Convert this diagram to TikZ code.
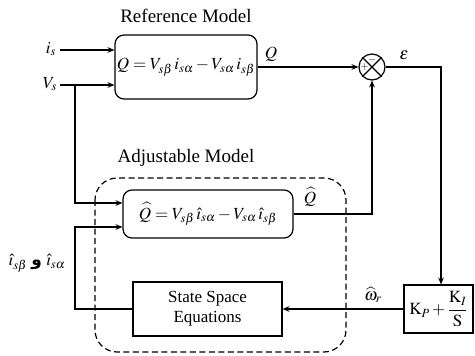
\documentclass[tikz,border=0pt]{standalone}
\usepackage{mathptmx}
\usepackage{fontspec}
\setmainfont{Liberation Serif}
\newfontfamily\arabicfont[Script=Arabic]{DejaVu Sans}
\TeXXeTstate=1
\usetikzlibrary{arrows.meta, positioning}

\begin{document}
\begin{tikzpicture}[
    x=1pt, y=-1pt,
    box/.style={draw, line width=1.2pt, align=center, inner sep=0pt, font=\fontsize{17}{20}\selectfont},
    model/.style={box, rounded corners=9pt},
    lbl/.style={font=\fontsize{17}{20}\selectfont},
    title/.style={font=\fontsize{19}{22}\selectfont},
    arrow/.style={-{Stealth[length=2.4mm, width=2mm]}, line width=1.2pt}
]
    \useasboundingbox (0,0) rectangle (475,356);

    % blocks
    \node[model, minimum width=142pt, minimum height=64pt] (ref) at (186,67)
        {$Q = V_{s\beta}\, i_{s\alpha} - V_{s\alpha}\, i_{s\beta}$};
    \node[model, minimum width=170pt, minimum height=48pt] (adj) at (208,214)
        {$\widehat{Q} = V_{s\beta}\,\hat{\imath}_{s\alpha} - V_{s\alpha}\,\hat{\imath}_{s\beta}$};
    \node[box, minimum width=149pt, minimum height=54pt] (ss) at (207.5,309)
        {State Space\\Equations};
    \node[box, minimum width=69pt, minimum height=48pt] (pi) at (438.5,309)
        {$\mathrm{K}_P + \displaystyle\frac{\mathrm{K}_I}{\mathrm{S}}$};
    \node[draw, line width=1.2pt, circle, minimum size=26pt, inner sep=0pt] (sum) at (372,67) {};
    \draw[line width=1.2pt] (sum.north west) -- (sum.south east);
    \draw[line width=1.2pt] (sum.north east) -- (sum.south west);
    \node[font=\normalsize, inner sep=0pt] at ([xshift=-7.5pt]sum.center) {$+$};
    \node[font=\normalsize, inner sep=0pt] at ([yshift=7.5pt]sum.center) {$-$};

    % adjustable model frame
    \draw[line width=1.2pt, dash pattern=on 6pt off 3.5pt, rounded corners=22pt] (95,178) rectangle (346,352);
    \node[title] (reftitle) at (186,16) {Reference Model};
    \node[title] (adjtitle) at (186,158) {Adjustable Model};

    % inputs
    \node[lbl] (is) at (51,49) {$i_s$};
    \node[lbl] (vs) at (50,84) {$V_s$};
    \coordinate (isend) at (60,50);
    \coordinate (vsend) at (60,85);
    \coordinate (vsbranch) at (75,85);
    \coordinate (vsdown) at (75,203);
    \coordinate (fbup) at (75,227);
    \coordinate (fbdown) at (75,309);
    \coordinate (epsturn) at (441,67);

    \draw[arrow] (isend) -- (isend -| ref.west);
    \draw[arrow] (vsend) -- (vsend -| ref.west);
    \draw[arrow] (vsbranch) -- (vsdown) -- (vsdown -| adj.west);
    \draw[arrow] (ss.west) -- (fbdown) -- (fbup) -- (fbup -| adj.west);
    \node[lbl, inner sep=1pt] (ihat) at (37,263)
        {$\hat{\imath}_{s\beta}$ {\arabicfont\bfseries\beginR و\endR} $\hat{\imath}_{s\alpha}$};

    % error loop
    \draw[arrow] (ref.east) -- (sum.west);
    \draw[arrow] (adj.east) -- (adj.east -| sum.south) -- (sum.south);
    \draw[arrow] (sum.east) -- (epsturn) -- (epsturn |- pi.north);
    \draw[arrow] (pi.west) -- (ss.east);

    % signal labels
    \node[lbl] (qlbl) at (271,54) {$Q$};
    \node[lbl] (elbl) at (404,55) {$\varepsilon$};
    \node[lbl] (qhlbl) at (310,197) {$\widehat{Q}$};
    \node[lbl] (wlbl) at (373,295) {$\widehat{\omega}_r$};
\end{tikzpicture}
\end{document}
